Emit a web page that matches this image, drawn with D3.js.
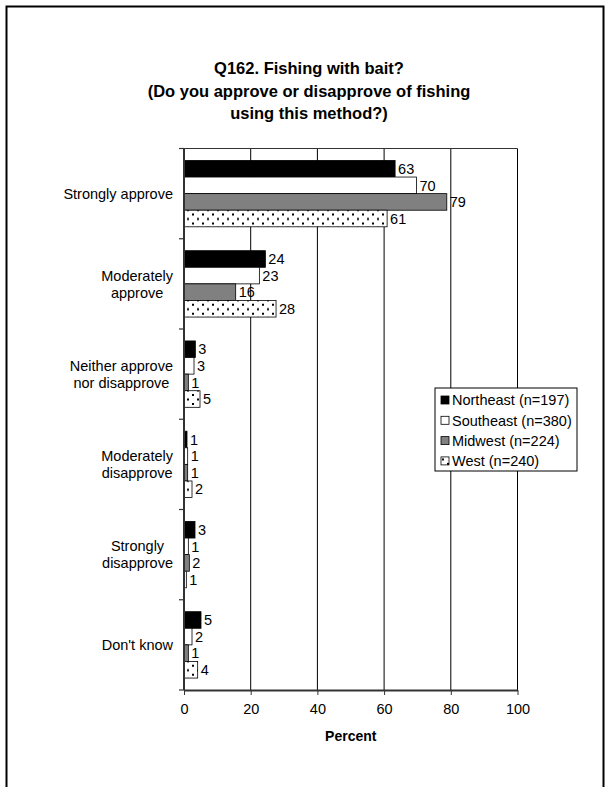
<!DOCTYPE html>
<html>
<head>
<meta charset="utf-8">
<script src="https://cdn.jsdelivr.net/npm/d3@7"></script>
<style>
  html, body { margin: 0; padding: 0; background: #fff; }
  svg { display: block; }
  text { font-family: Arial, "Liberation Sans", sans-serif; fill: #000; }
</style>
</head>
<body>
<svg id="chart" width="611" height="787"></svg>
<script>
// ---- data ----
const titleLines = ["Q162. Fishing with bait?", "(Do you approve or disapprove of fishing", "using this method?)"];
const categories = [
  ["Strongly approve"],
  ["Moderately", "approve"],
  ["Neither approve", "nor disapprove"],
  ["Moderately", "disapprove"],
  ["Strongly", "disapprove"],
  ["Don't know"]
];
const seriesNames = ["Northeast (n=197)", "Southeast (n=380)", "Midwest (n=224)", "West (n=240)"];
const northeast = [63.3, 24.4, 3.4, 0.9, 3.3, 5.1];
const southeast = [69.7, 22.6, 3.0, 1.1, 1.3, 2.4];
const midwest   = [78.8, 15.5, 1.3, 1.1, 1.6, 1.3];
const west      = [60.9, 27.6, 4.8, 2.4, 0.7, 4.1];
const xTicks = [0, 20, 40, 60, 80, 100];
const xTitle = "Percent";

const seriesValues = [northeast, southeast, midwest, west];

// ---- layout ----
const svg = d3.select("#chart");
const W = 611, H = 787;
const plot = { left: 184, right: 517.5, top: 148.5, bottom: 690 };

const defs = svg.append("defs");
const pat = defs.append("pattern").attr("id", "dots").attr("patternUnits", "userSpaceOnUse")
  .attr("width", 10).attr("height", 9);
pat.append("rect").attr("width", 10).attr("height", 9).attr("fill", "#fff");
pat.append("rect").attr("x", 2).attr("y", 2).attr("width", 2).attr("height", 2).attr("fill", "#000");
pat.append("rect").attr("x", 7).attr("y", 6.5).attr("width", 2).attr("height", 2).attr("fill", "#000");

const fills = ["#000000", "#ffffff", "#808080", "url(#dots)"];

// outer frame
svg.append("rect").attr("x", 6.5).attr("y", 6.5).attr("width", 597).attr("height", H + 20)
  .attr("fill", "none").attr("stroke", "#000").attr("stroke-width", 2);

// title
svg.append("g").selectAll("text").data(titleLines).join("text")
  .attr("x", 309).attr("y", (d, i) => 74 + i * 22.5)
  .attr("text-anchor", "middle").attr("font-size", 16.5).attr("font-weight", "bold")
  .text(d => d);

const x = d3.scaleLinear().domain([0, 100]).range([plot.left, plot.right]);
const catKeys = categories.map((c, i) => i);
const y0 = d3.scaleBand().domain(catKeys).range([plot.top, plot.bottom]);
const y1 = d3.scaleBand().domain(seriesNames.map((s, i) => i))
  .range([0, y0.bandwidth()]).paddingOuter(0.72).paddingInner(0);

// gridlines
svg.append("g").selectAll("line").data(xTicks.filter(t => t > 0)).join("line")
  .attr("x1", d => x(d)).attr("x2", d => x(d))
  .attr("y1", plot.top).attr("y2", plot.bottom)
  .attr("stroke", "#000").attr("stroke-width", 1);
// top border
svg.append("line").attr("x1", plot.left - 5).attr("x2", plot.right)
  .attr("y1", plot.top).attr("y2", plot.top).attr("stroke", "#333").attr("stroke-width", 1.2);

// bars
const gCat = svg.append("g").selectAll("g").data(catKeys).join("g")
  .attr("transform", d => `translate(0,${y0(d)})`);
gCat.selectAll("rect").data(ci => seriesValues.map((vals, si) => ({ si, v: vals[ci] }))).join("rect")
  .attr("x", x(0)).attr("y", d => y1(d.si))
  .attr("width", d => x(d.v) - x(0)).attr("height", y1.bandwidth())
  .attr("fill", d => fills[d.si]).attr("stroke", "#000").attr("stroke-width", 0.8);
gCat.selectAll("text.val").data(ci => seriesValues.map((vals, si) => ({ si, v: vals[ci] }))).join("text")
  .attr("class", "val")
  .attr("x", d => x(d.v) + 3).attr("y", d => y1(d.si) + y1.bandwidth() / 2)
  .attr("dy", "0.36em").attr("font-size", 14.5)
  .text(d => d3.format(".0f")(d.v));

// x axis
const xAxis = svg.append("g").attr("transform", `translate(0,${plot.bottom})`)
  .call(d3.axisBottom(x).tickValues(xTicks).tickSize(5).tickSizeOuter(0).tickPadding(9));
xAxis.select(".domain").attr("stroke", "#333").attr("stroke-width", 2);
xAxis.selectAll(".tick line").attr("stroke", "#333");
xAxis.selectAll(".tick text").attr("font-size", 14.5).attr("font-family", "Arial, 'Liberation Sans', sans-serif").attr("fill", "#000");
svg.append("text").attr("x", x(50)).attr("y", 741).attr("text-anchor", "middle")
  .attr("font-size", 14).attr("font-weight", "bold").text(xTitle);

// y axis line + boundary ticks
svg.append("line").attr("x1", plot.left).attr("x2", plot.left)
  .attr("y1", plot.top).attr("y2", plot.bottom).attr("stroke", "#333").attr("stroke-width", 2);
const bounds = catKeys.map(k => y0(k)).concat([plot.bottom]);
svg.append("g").selectAll("line").data(bounds).join("line")
  .attr("x1", plot.left - 5).attr("x2", plot.left)
  .attr("y1", d => d).attr("y2", d => d).attr("stroke", "#333").attr("stroke-width", 1.2);

// category labels: block right-aligned, lines centered within block
const labelRight = 173;
const catG = svg.append("g");
categories.forEach((lines, ci) => {
  const cy = y0(ci) + y0.bandwidth() / 2;
  const g = catG.append("g");
  const texts = g.selectAll("text").data(lines).join("text")
    .attr("font-size", 14.5)
    .attr("y", (d, i) => cy + (i - (lines.length - 1) / 2) * 17)
    .attr("dy", "0.36em").text(d => d);
  let maxW = 0;
  texts.each(function () { maxW = Math.max(maxW, this.getComputedTextLength()); });
  texts.attr("x", labelRight - maxW / 2).attr("text-anchor", "middle");
});

// legend
const lg = svg.append("g").attr("transform", "translate(435,388)");
lg.append("rect").attr("width", 142).attr("height", 83).attr("fill", "#fff")
  .attr("stroke", "#000").attr("stroke-width", 1);
const items = lg.selectAll("g").data(seriesNames).join("g")
  .attr("transform", (d, i) => `translate(0,${12 + i * 20.3})`);
items.append("rect").attr("x", 6).attr("y", -4).attr("width", 8).attr("height", 8)
  .attr("fill", (d, i) => fills[i]).attr("stroke", "#000").attr("stroke-width", 0.8);
items.append("text").attr("x", 17).attr("y", 0).attr("dy", "0.36em")
  .attr("font-size", 14.5).text(d => d);
</script>
</body>
</html>
